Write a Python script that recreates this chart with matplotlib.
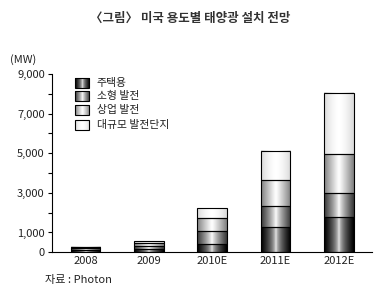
import matplotlib
matplotlib.use('Agg')
import matplotlib.pyplot as plt
import numpy as np
from matplotlib.ticker import MultipleLocator, FuncFormatter

plt.rcParams['font.family'] = ['Noto Sans CJK KR', 'DejaVu Sans']

years = ['2008', '2009', '2010E', '2011E', '2012E']
series_names = ['주택용', '소형 발전', '상업 발전', '대규모 발전단지']
residential = [120, 170, 420, 1260, 1770]
small_power = [80, 170, 640, 1060, 1230]
commercial = [60, 135, 690, 1330, 1970]
utility = [25, 100, 500, 1480, 3080]
y_labels = [0, 1000, 3000, 5000, 7000, 9000]

# edge darkness of each layer (0 = black, 1 = white)
edge_vals = [0.0, 0.22, 0.5, 0.85]
powers = [0.5, 0.8, 1.1, 1.6]


def gradient(edge, p, n=64):
    t = np.linspace(-1, 1, n)
    v = 1 - (1 - edge) * np.abs(t) ** p
    return v.reshape(1, -1)


fig = plt.figure(figsize=(3.81, 2.92), dpi=100)
ax = fig.add_axes([0.1357, 0.136, 0.976 - 0.1357, 0.7466 - 0.136])

x = np.arange(len(years))
width = 0.465
bottom = np.zeros(len(years))
data = [residential, small_power, commercial, utility]
for k, vals in enumerate(data):
    rects = ax.bar(x, vals, width=width, bottom=bottom, facecolor='none',
                   edgecolor='black', linewidth=0.8, zorder=3)
    for r in rects:
        x0, y0 = r.get_x(), r.get_y()
        ax.imshow(gradient(edge_vals[k], powers[k]), cmap='gray', vmin=0, vmax=1,
                  extent=[x0, x0 + r.get_width(), y0, y0 + r.get_height()],
                  aspect='auto', interpolation='bilinear', zorder=2)
    bottom += np.array(vals)

ax.set_xticks(x)
ax.set_xticklabels(years, fontsize=8, color='#222222')
ax.tick_params(axis='x', length=0, pad=3)
ax.yaxis.set_major_locator(MultipleLocator(1000))
ax.yaxis.set_major_formatter(FuncFormatter(
    lambda v, pos: format(int(v), ',') if int(v) in y_labels else ''))
ax.tick_params(axis='y', direction='out', length=3, width=0.8, labelsize=8,
               labelcolor='#222222', pad=2)
for s in ['top', 'right']:
    ax.spines[s].set_visible(False)
ax.spines['left'].set_linewidth(0.8)
ax.spines['bottom'].set_linewidth(0.8)

# legend drawn by hand with the same gradients
leg_y = [0.948, 0.878, 0.798, 0.716]
for k, name in enumerate(series_names):
    ax.imshow(gradient(edge_vals[k], powers[k]), cmap='gray', vmin=0, vmax=1,
              extent=[0.073, 0.118, leg_y[k] - 0.028, leg_y[k] + 0.028],
              transform=ax.transAxes, aspect='auto', zorder=4)
    ax.add_patch(plt.Rectangle((0.073, leg_y[k] - 0.028), 0.045, 0.056,
                               transform=ax.transAxes, fill=False,
                               edgecolor='black', linewidth=0.8, zorder=5))
    ax.text(0.14, leg_y[k], name, transform=ax.transAxes, fontsize=7.8,
            va='center', ha='left', color='#222222')

ax.set_xlim(-0.533, 4.52)
ax.set_ylim(0, 9000)

fig.text(0.5, 1 - 18 / 292, '〈그림〉 미국 용도별 태양광 설치 전망', fontsize=9,
         fontweight='bold', ha='center', va='center', color='#333333')
fig.text(10 / 381, 1 - 60 / 292, '(MW)', fontsize=8, ha='left', va='center',
         color='#222222')
fig.text(45 / 381, 1 - 280 / 292, '자료 : Photon', fontsize=8, ha='left',
         va='center', color='#222222')

fig.savefig('out.png', dpi=100)
